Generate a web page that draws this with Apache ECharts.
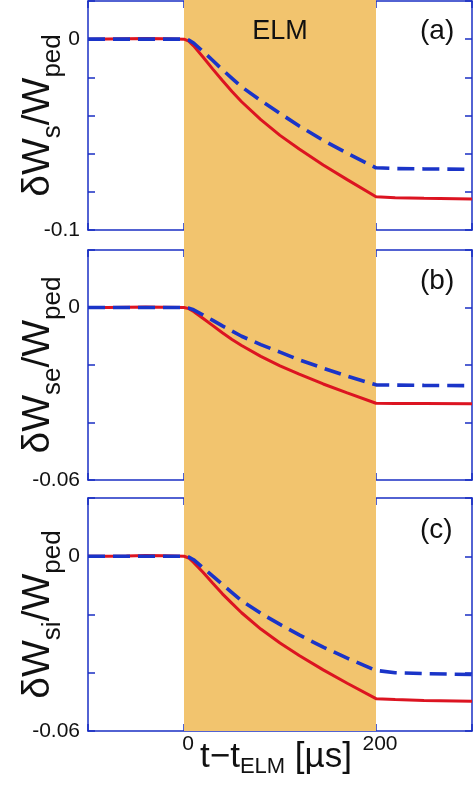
<!DOCTYPE html>
<html><head><meta charset="utf-8">
<script src="https://cdn.jsdelivr.net/npm/echarts@6/dist/echarts.min.js"></script>
<style>html,body{margin:0;padding:0;background:#fff}#c{width:475px;height:787px}</style>
</head><body><div id="c"></div>
<script>
// ---- data ----
const times = [-100, -80, -60, -40, -20, 0, 5, 10, 20, 30, 40, 50, 60, 80, 100, 120, 145, 170, 200, 220, 250, 300];
const redA  = [0, 0.0001, 0.0002, 0.0003, 0.0002, 0, -0.0010, -0.0035, -0.0095, -0.0157, -0.0217, -0.0274, -0.0328, -0.0422, -0.0504, -0.0576, -0.0659, -0.0736, -0.0826, -0.0831, -0.0834, -0.0838];
const blueA = [0, 0, 0, 0, 0, 0, -0.0005, -0.0020, -0.0065, -0.0112, -0.0160, -0.0205, -0.0250, -0.0322, -0.0389, -0.0455, -0.0530, -0.0598, -0.0674, -0.0678, -0.0680, -0.0682];
const redB  = [0, 0, 0.0001, 0.0002, 0.0001, 0, -0.0004, -0.0014, -0.0038, -0.0063, -0.0088, -0.0111, -0.0132, -0.0170, -0.0203, -0.0232, -0.0266, -0.0297, -0.0333, -0.0334, -0.0334, -0.0335];
const blueB = [0, 0, 0, 0, 0, 0, -0.0002, -0.0008, -0.0026, -0.0045, -0.0064, -0.0082, -0.0100, -0.0129, -0.0155, -0.0182, -0.0211, -0.0239, -0.0269, -0.0270, -0.0271, -0.0272];
const redC  = [0, 0, 0.0001, 0.0003, 0.0002, 0, -0.0006, -0.0021, -0.0056, -0.0093, -0.0129, -0.0162, -0.0194, -0.0250, -0.0298, -0.0341, -0.0390, -0.0436, -0.0489, -0.0492, -0.0495, -0.0498];
const blueC = [0, 0, 0, 0, 0, 0, -0.0003, -0.0012, -0.0040, -0.0068, -0.0097, -0.0125, -0.0153, -0.0196, -0.0234, -0.0270, -0.0312, -0.0350, -0.0392, -0.0400, -0.0403, -0.0406];
const elmRange = [0, 200];
const panelTags = ['(a)', '(b)', '(c)'];
const ySubs = ['s', 'se', 'si'];
const yMins = [-0.1, -0.06, -0.06];
const yMax = 0.02;
const yTickValsA = [0, -0.1], yTickLabelsA = ['0', '-0.1'];
const yTickValsBC = [0, -0.06], yTickLabelsBC = ['0', '-0.06'];
const xTickVals = [0, 200], xTickLabels = ['0', '200'];

// ---- style ----
const FONT = 'Liberation Sans, Arial, Helvetica, sans-serif';
const AX = '#1a2fc4';
const RED = '#dc1421';
const BLUE = '#1a34c8';
const SHADE = '#f2c46e';

const gridTops = [1, 250, 498];
const gridHeights = [229, 230, 233];

const grids = [], xAxes = [], yAxes = [], series = [];
const axisLine = { show: true, onZero: false, lineStyle: { color: AX, width: 1.5 } };
const axisTick = { show: true, inside: true, length: 7, lineStyle: { color: AX, width: 1.5 } };

function pick(vals, labels) {
  return v => { const i = vals.findIndex(x => Math.abs(x - v) < 1e-9); return i >= 0 ? labels[i] : ''; };
}

for (let p = 0; p < 3; p++) {
  grids.push({ left: 88, right: 3, top: gridTops[p], height: gridHeights[p], containLabel: false, outerBoundsMode: 'none' });
  const last = p === 2;
  xAxes.push({
    type: 'value', gridIndex: p, position: 'bottom', min: -100, max: 300, interval: 100,
    axisLine, axisTick, splitLine: { show: false },
    axisLabel: { show: last, margin: 3, fontSize: 21, fontFamily: FONT, color: '#111', padding: [0, 0, 0, 8],
      formatter: pick(xTickVals, xTickLabels) },
    name: last ? '{m|t\u2212t}{s|ELM}{m| [\u00b5s]}' : '', nameLocation: 'middle', nameGap: 5, nameMoveOverlap: false,
    nameTextStyle: { padding: [0, 8, 0, 0], rich: {
      m: { fontSize: 35, lineHeight: 42, verticalAlign: 'middle', fontFamily: FONT, color: '#111' },
      s: { fontSize: 22, lineHeight: 22, verticalAlign: 'bottom', fontFamily: FONT, color: '#111' } } }
  });
  xAxes.push({
    type: 'value', gridIndex: p, position: 'top', min: -100, max: 300, interval: 100,
    axisLine, axisTick, splitLine: { show: false }, axisLabel: { show: false }
  });
  const vals = p === 0 ? yTickValsA : yTickValsBC;
  const labs = p === 0 ? yTickLabelsA : yTickLabelsBC;
  yAxes.push({
    type: 'value', gridIndex: p, position: 'left', min: yMins[p], max: yMax, interval: 0.02,
    axisLine, axisTick, splitLine: { show: false },
    axisLabel: { show: true, margin: 8, fontSize: 21, fontFamily: FONT, color: '#111',
      showMinLabel: true, showMaxLabel: true, formatter: pick(vals, labs) },
    name: '{m|\u03b4W}{s|' + ySubs[p] + '}{m|/W}{s|ped}', nameLocation: 'middle', nameRotate: 90, nameGap: 22,
    nameMoveOverlap: false,
    nameTextStyle: { rich: {
      m: { fontSize: 39, lineHeight: 56, verticalAlign: 'middle', fontFamily: FONT, color: '#111' },
      s: { fontSize: 26, lineHeight: 26, verticalAlign: 'bottom', fontFamily: FONT, color: '#111' } } }
  });
  yAxes.push({
    type: 'value', gridIndex: p, position: 'right', min: yMins[p], max: yMax, interval: 0.02,
    axisLine, axisTick, splitLine: { show: false }, axisLabel: { show: false }
  });
}
// background grid for ELM shading across all panels
grids.push({ left: 88, right: 3, top: 0, height: 731, outerBoundsMode: 'none' });
xAxes.push({ type: 'value', gridIndex: 3, min: -100, max: 300, show: false });
yAxes.push({ type: 'value', gridIndex: 3, min: 0, max: 1, show: false });
series.push({
  type: 'line', xAxisIndex: 6, yAxisIndex: 6, data: [[0, 0]], symbol: 'none', z: 0,
  lineStyle: { opacity: 0 }, silent: true,
  markArea: { silent: true, itemStyle: { color: SHADE, opacity: 1 },
    label: { show: true, position: 'insideTop', distance: 18, color: '#111', fontSize: 27, fontFamily: FONT },
    data: [[{ xAxis: elmRange[0], name: 'ELM' }, { xAxis: elmRange[1] }]] }
});

const reds = [redA, redB, redC], blues = [blueA, blueB, blueC];
for (let p = 0; p < 3; p++) {
  series.push({
    type: 'line', xAxisIndex: 2 * p, yAxisIndex: 2 * p, symbol: 'none', z: 3,
    data: times.map((t, i) => [t, reds[p][i]]),
    lineStyle: { color: RED, width: 3 }
  });
  series.push({
    type: 'line', xAxisIndex: 2 * p, yAxisIndex: 2 * p, symbol: 'none', z: 4,
    data: times.map((t, i) => [t, blues[p][i]]),
    lineStyle: { color: BLUE, width: 3.6, type: [17, 8] }
  });
}

const titles = panelTags.map((t, p) => ({
  text: t, left: 420, top: [17, 267, 516][p], padding: 0,
  textStyle: { fontSize: 28, fontWeight: 'normal', fontFamily: FONT, color: '#111' }
}));

const chart = echarts.init(document.getElementById('c'), null, { renderer: 'canvas' });
chart.setOption({
  backgroundColor: '#fff', animation: false,
  title: titles, grid: grids, xAxis: xAxes, yAxis: yAxes, series
});
</script></body></html>
